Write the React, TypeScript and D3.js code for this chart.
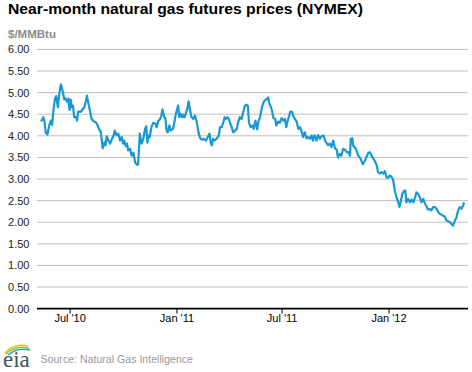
import React from "react";
import * as d3 from "d3";

// near-month NYMEX prices, $/MMBtu
// days counted from 2010-05-05
const startDate = new Date(2010, 4, 5);
const endDate = new Date(2012, 4, 16);

const dayOffsets = [
  7, 11, 13, 15, 18, 21, 24, 26, 28, 31, 33, 36, 38, 41, 44, 47, 49, 52, 54, 56,
  58, 60, 62, 64, 67, 69, 71, 76, 79, 81, 84, 86, 88, 91, 94, 98, 101, 104, 107, 110,
  113, 116, 118, 120, 123, 126, 129, 131, 134, 137, 140, 143, 146, 148, 150, 153, 155, 157, 160, 163,
  166, 169, 172, 174, 177,
  180, 183, 186, 188, 190, 192, 194, 197, 200, 204, 206, 209, 212, 214, 216, 219, 221, 223, 225, 228,
  230, 234, 236, 238, 240, 243, 245, 247, 250, 252, 254, 256, 259, 261, 263, 266, 269, 272, 275, 278,
  281, 284, 287, 291, 294, 297, 299, 301, 303, 306, 309, 313, 315, 318, 321, 323, 325, 328, 330, 332,
  335, 338, 341, 344, 346, 349, 352, 355,
  358, 361, 363, 365, 368, 371, 373, 376, 379, 381, 384, 387, 389, 392, 395, 398, 400, 403, 405, 407,
  410, 412, 415, 418, 421, 424, 427, 429, 431, 434, 436, 439, 442, 444, 447, 450, 453, 456, 458, 461,
  464, 467, 470, 473, 475, 478, 481, 484, 487, 490, 493, 496, 498, 501, 504, 507, 510, 513, 516, 518,
  521, 524, 527, 530, 533, 536, 539, 540, 543,
  544, 549, 553, 557, 561, 564, 567, 570, 573, 576, 579, 582, 585, 587, 590, 593, 596, 599, 602, 605,
  607, 610, 613, 616, 619, 622, 624, 626, 629, 632, 634, 636, 639, 642, 645, 648, 651, 653, 656, 659,
  662, 665, 668, 671, 673, 676, 679, 682, 685, 688, 691, 694, 696, 699, 702, 705, 708, 711, 714, 716,
  719, 722, 725, 728, 731, 734, 735,
];

const prices = [
  4.33, 4.43, 4.32, 4.07, 4.03, 4.24, 4.35, 4.25, 4.55, 4.87, 4.92, 4.66, 4.93, 5.19, 5.05, 4.84, 4.87, 4.78, 4.86, 4.6,
  4.84, 4.66, 4.7, 4.43, 4.43, 4.35, 4.56, 4.56, 4.63, 4.64, 4.8, 4.93, 4.78, 4.59, 4.39, 4.33, 4.32, 4.25, 4.15, 4.08,
  3.71, 3.85, 3.78, 3.99, 3.89, 3.82, 3.93, 3.97, 4.12, 4.01, 4.05, 3.89, 3.97, 3.82, 3.89, 3.76, 3.82, 3.66, 3.7, 3.54,
  3.61, 3.38, 3.33, 3.33, 4.05,
  3.82, 3.93, 4.16, 4.22, 3.84, 4.01, 3.97, 4.2, 4.3, 4.28, 4.2, 4.35, 4.39, 4.47, 4.61, 4.43, 4.41, 4.12, 4.08, 4.24,
  4.12, 4.16, 4.28, 4.43, 4.55, 4.7, 4.43, 4.51, 4.43, 4.49, 4.43, 4.51, 4.64, 4.8, 4.63, 4.43, 4.39, 4.47, 4.32, 4.08,
  3.94, 3.91, 3.93, 3.89, 3.97, 4.05, 3.84, 3.78, 3.93, 3.89, 3.93, 4.01, 4.2, 4.2, 4.32, 4.43, 4.39, 4.43, 4.39, 4.32,
  4.2, 4.08, 4.12, 4.16, 4.3, 4.43, 4.39, 4.55,
  4.7, 4.72, 4.69, 4.3, 4.2, 4.24, 4.16, 4.35, 4.15, 4.32, 4.43, 4.64, 4.74, 4.82, 4.84, 4.89, 4.74, 4.66, 4.55, 4.41,
  4.39, 4.24, 4.33, 4.3, 4.41, 4.35, 4.39, 4.2, 4.32, 4.45, 4.56, 4.56, 4.43, 4.39, 4.33, 4.16, 4.2, 4.08, 3.97, 4.08,
  3.94, 3.97, 3.93, 4.01, 3.89, 4.01, 3.89, 4.02, 3.93, 3.99, 4.01, 3.89, 3.85, 3.78, 3.82, 3.74, 3.89, 3.71, 3.68, 3.5,
  3.58, 3.54, 3.7, 3.68, 3.62, 3.62, 3.54, 3.93, 3.94,
  3.78, 3.7, 3.54, 3.47, 3.34, 3.41, 3.5, 3.6, 3.62, 3.54, 3.47, 3.41, 3.31, 3.16, 3.13, 3.16, 3.12, 3.18, 3.03, 3.03,
  3.08, 3.06, 2.98, 2.73, 2.58, 2.46, 2.35, 2.46, 2.66, 2.73, 2.73, 2.46, 2.54, 2.46, 2.52, 2.46, 2.58, 2.69, 2.66, 2.58,
  2.46, 2.54, 2.43, 2.35, 2.29, 2.31, 2.27, 2.35, 2.35, 2.31, 2.23, 2.19, 2.18, 2.15, 2.13, 2.04, 2.02, 2.0, 1.95, 1.92,
  2.02, 2.11, 2.27, 2.35, 2.31, 2.39, 2.46,
];

const yTicks = [0, 0.5, 1, 1.5, 2, 2.5, 3, 3.5, 4, 4.5, 5, 5.5, 6];
const xTicks = [new Date(2010, 6, 1), new Date(2011, 0, 1), new Date(2011, 6, 1), new Date(2012, 0, 1)];

const title = "Near-month natural gas futures prices (NYMEX)";
const unitLabel = "$/MMBtu";
const source = "Source: Natural Gas Intelligence";

const W = 472;
const H = 372;
const left = 37;
const right = 468;
const top = 49.4;
const bottom = 308.6;

const App = () => {
  const x = d3.scaleTime().domain([startDate, endDate]).range([left, right]);
  const y = d3.scaleLinear().domain([0, 6]).range([bottom, top]);

  const data = dayOffsets.map((d, i) => ({
    date: d3.timeDay.offset(startDate, d),
    value: prices[i],
  }));

  const line = d3
    .line<{ date: Date; value: number }>()
    .x((d) => x(d.date))
    .y((d) => y(d.value));

  const fmt = d3.timeFormat("%b '%y");
  const font = "Arial, 'Liberation Sans', sans-serif";

  return (
    <svg
      width={W}
      height={H}
      style={{ position: "absolute", left: 0, top: 0, background: "#fff" }}
      fontFamily={font}
    >
      <text x={8} y={14} fontSize={15} fontWeight="bold" fill="#000" textLength={355} lengthAdjust="spacingAndGlyphs">
        {title}
      </text>
      <text x={8} y={38} fontSize={11.5} fontWeight="bold" fill="#8c8c8c">
        {unitLabel}
      </text>

      {/* gridlines + y labels */}
      {yTicks.map((t) => (
        <g key={t}>
          {t > 0 && (
            <line x1={left} x2={right} y1={y(t)} y2={y(t)} stroke="#bfbfbf" strokeWidth={1} />
          )}
          <text x={29.5} y={y(t) + 4} fontSize={11} textAnchor="end" fill="#222">
            {d3.format(".2f")(t)}
          </text>
        </g>
      ))}

      {/* x axis */}
      <line x1={left} x2={right} y1={bottom} y2={bottom} stroke="#000" strokeWidth={1.6} />
      {xTicks.map((t) => (
        <g key={t.getTime()}>
          <line x1={x(t)} x2={x(t)} y1={bottom} y2={bottom + 5} stroke="#000" strokeWidth={1} />
          <text x={x(t)} y={322} fontSize={11} textAnchor="middle" fill="#000">
            {fmt(t)}
          </text>
        </g>
      ))}

      <path d={line(data) || ""} fill="none" stroke="#1898d5" strokeWidth={2.2} strokeLinejoin="round" />

      {/* eia logo */}
      <g>
        <path d="M5,353 Q14,343 28,346" fill="none" stroke="#f2c200" strokeWidth={1.6} />
        <path d="M6,354 Q15,345 29,348" fill="none" stroke="#8dc63f" strokeWidth={1.6} />
        <path d="M8,355 Q17,347 30,350" fill="none" stroke="#2a9fd6" strokeWidth={1.6} />
        <text x={3} y={367} fontSize={23} fontFamily="'Liberation Serif', 'DejaVu Serif', serif" fill="#3f5566">
          eia
        </text>
      </g>
      <text x={40.5} y={363} fontSize={10.6} fill="#999">
        {source}
      </text>
    </svg>
  );
};

export default App;
